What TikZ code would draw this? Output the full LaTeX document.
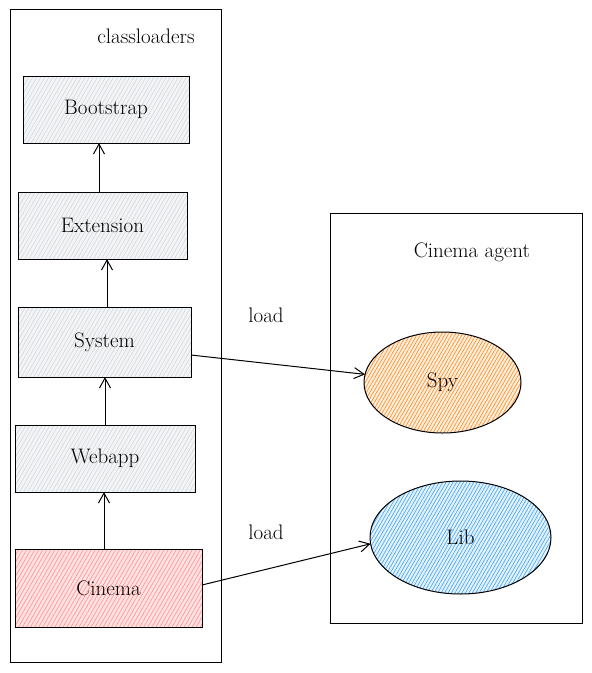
\documentclass[tikz,border=0pt]{standalone}
\usetikzlibrary{arrows.meta,patterns.meta,shapes.geometric,calc}
\definecolor{grayhatch}{HTML}{CED4DA}
\definecolor{redhatch}{HTML}{FF8787}
\definecolor{orangehatch}{HTML}{FF922B}
\definecolor{bluehatch}{HTML}{4DABF7}
\tikzset{
  lbl/.style={font=\fontsize{21}{24}\selectfont},
  container/.style={draw, line width=1pt, inner sep=0pt, outer sep=0pt},
  clbox/.style={draw, line width=1pt, inner sep=0pt, outer sep=0pt, rectangle,
    font=\fontsize{21}{24}\selectfont,
    preaction={fill=#1!25},
    pattern={Lines[angle=60,distance=3.5pt,line width=0.5pt]}, pattern color=#1},
  clbox/.default=grayhatch,
  oval/.style={draw, line width=1pt, ellipse, inner sep=0pt, outer sep=0pt,
    font=\fontsize{21}{24}\selectfont,
    preaction={fill=#1!15},
    pattern={Lines[angle=60,distance=3pt,line width=0.7pt]}, pattern color=#1},
  arr/.style={line width=1pt, -{Straight Barb[length=10pt,width=11pt,line width=1pt]}},
}
\begin{document}
\begin{tikzpicture}[x=1pt,y=-1pt]
\useasboundingbox (0,0) rectangle (592,673);
% containers
\node[container, minimum width=211pt, minimum height=653pt] (cl) at (115.5,335.5) {};
\node[lbl] (cltext) at (146,36) {classloaders};
\node[container, minimum width=252pt, minimum height=410pt] (ag) at (456,418) {};
\node[lbl] (agtext) at (472,252) {Cinema agent};
% classloader boxes
\node[clbox, minimum width=166pt, minimum height=67pt] (boot) at (106,109.5) {Bootstrap};
\node[clbox, minimum width=169pt, minimum height=67pt] (ext) at (102.5,225.5) {Extension};
\node[clbox, minimum width=173pt, minimum height=70pt] (sys) at (104.5,342) {System};
\node[clbox, minimum width=180pt, minimum height=67pt] (web) at (105,458.5) {Webapp};
\node[clbox=redhatch, minimum width=187pt, minimum height=78pt] (cin) at (108.5,588) {Cinema};
% agent ellipses
\node[oval=orangehatch, minimum width=157pt, minimum height=101pt] (spy) at (442.5,382.5) {Spy};
\node[oval=bluehatch, minimum width=181pt, minimum height=113pt] (lib) at (460.5,537.5) {Lib};
% arrow anchor points
\coordinate (a1) at (99,192);
\coordinate (a2) at (107,307);
\coordinate (a3) at (105,425);
\coordinate (a4) at (104,549);
% arrows
\draw[arr] (a1) -- (a1 |- boot.south);
\draw[arr] (a2) -- (a2 |- ext.south);
\draw[arr] (a3) -- (a3 |- sys.south);
\draw[arr] (a4) -- (a4 |- web.south);
\draw[arr] ($(sys.east)+(0,13)$) -- (spy.174);
\draw[arr] ($(cin.east)+(0,-3)$) -- (lib.184);
% labels
\node[lbl] (load1) at (266,315) {load};
\node[lbl] (load2) at (266,532) {load};
\end{tikzpicture}
\end{document}
